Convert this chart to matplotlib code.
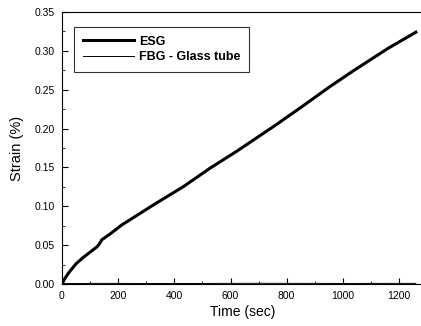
import matplotlib
matplotlib.use('Agg')
import matplotlib.pyplot as plt
from matplotlib.ticker import MultipleLocator

# ESG strain readings
esg_time = [0, 10, 25, 50, 75, 100, 125, 132, 142, 170, 213, 331, 431, 527, 623,
            769, 790, 840, 954, 1036, 1160, 1260]
esg_strain = [0.0, 0.007, 0.015, 0.026, 0.034, 0.041, 0.048, 0.051, 0.057, 0.064,
              0.076, 0.103, 0.125, 0.149, 0.171, 0.2065, 0.212, 0.2245, 0.254,
              0.274, 0.303, 0.324]

# FBG inside glass tube stays at ~zero strain
fbg_time = [0, 130, 400, 700, 1000, 1260]
fbg_strain = [0.0005, 0.0008, 0.0006, 0.0009, 0.0007, 0.0008]

plt.rcParams['font.family'] = ['Liberation Sans', 'DejaVu Sans']

fig = plt.figure(figsize=(4.21, 3.26), dpi=100)
# right spine falls just outside the picture, as in the scan
ax = fig.add_axes([62 / 421, 42 / 326, 362 / 421, 272 / 326])

ax.plot(esg_time, esg_strain, color='black', linewidth=2.2, label='ESG')
ax.plot(fbg_time, fbg_strain, color='black', linewidth=0.7, label='FBG - Glass tube')

ax.set_xlim(0, 1289)
ax.set_ylim(0, 0.35)
ax.xaxis.set_major_locator(MultipleLocator(200))
ax.xaxis.set_minor_locator(MultipleLocator(100))
ax.yaxis.set_major_locator(MultipleLocator(0.05))
ax.yaxis.set_minor_locator(MultipleLocator(0.025))
ax.yaxis.set_major_formatter(plt.FormatStrFormatter('%.2f'))
ax.tick_params(which='both', direction='in', labelsize=7.5, pad=5)
ax.tick_params(which='major', length=4)
ax.tick_params(which='minor', length=2)

ax.set_xlabel('Time (sec)', fontsize=10, labelpad=3)
ax.set_ylabel('Strain (%)', fontsize=10.5, labelpad=8)

leg = ax.legend(loc='upper left', bbox_to_anchor=(12 / 362, 1 - 15 / 272),
                borderaxespad=0, frameon=True, fancybox=False, edgecolor='black',
                handlelength=4.1, handletextpad=0.4, borderpad=0.7, labelspacing=0.25,
                prop={'weight': 'bold', 'size': 9})
leg.get_frame().set_linewidth(0.8)

fig.savefig('out.png', dpi=100)
